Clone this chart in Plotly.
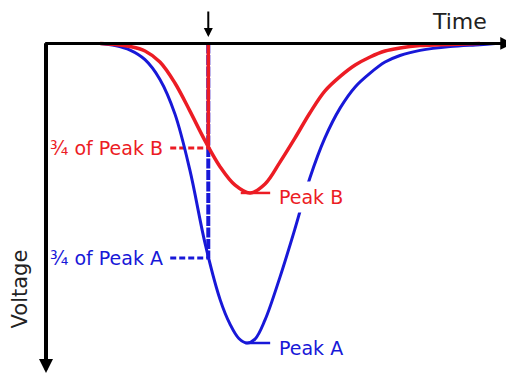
import plotly.graph_objects as go

# time axis (arbitrary units), voltage as a fraction of peak A
red_t = [11.6, 14.8, 18.0, 21.2, 24.4, 27.6, 30.8, 34.1, 37.3, 40.5, 43.7, 46.9,
         50.1, 53.3, 56.5, 59.7, 63.0, 66.2, 69.4, 72.6, 75.8, 80.1, 86.5, 92.9]
red_v = [0.0, -0.003, -0.010, -0.025, -0.062, -0.132, -0.225, -0.326, -0.412, -0.473,
         -0.499, -0.469, -0.396, -0.316, -0.232, -0.159, -0.110, -0.072, -0.045,
         -0.025, -0.015, -0.007, -0.003, 0.0]

blue_t = [11.6, 14.8, 18.0, 21.2, 24.4, 27.6, 30.8, 34.1, 37.3, 39.4, 41.3, 43.0,
          44.75, 46.9, 50.1, 53.3, 56.5, 59.7, 63.0, 66.2, 69.4, 72.6, 75.8, 80.1,
          86.5, 92.9, 96.2]
blue_v = [0.0, -0.007, -0.022, -0.054, -0.120, -0.235, -0.422, -0.670, -0.856, -0.937,
          -0.985, -1.0, -0.987, -0.923, -0.780, -0.619, -0.449, -0.316, -0.215, -0.145,
          -0.099, -0.062, -0.040, -0.023, -0.010, -0.004, 0.0]

t_mark = 34.75
level_b = -0.349   # 3/4 of peak B
level_a = -0.716   # 3/4 of peak A
labels = ["\u00be of Peak B", "\u00be of Peak A", "Peak B", "Peak A"]

RED = "#ec1c24"
BLUE = "#1818d8"
FONT = "DejaVu Sans"

peak_b = min(red_v)
peak_a = min(blue_v)
tb = red_t[red_v.index(peak_b)]
ta = blue_t[blue_v.index(peak_a)]

fig = go.Figure()

# marker line at t_mark
fig.add_trace(go.Scatter(x=[t_mark, t_mark], y=[0, level_a], mode="lines",
                         line=dict(color=BLUE, width=4, dash="10px,1.5px")))
fig.add_trace(go.Scatter(x=[t_mark, t_mark], y=[0, level_b], mode="lines",
                         line=dict(color=RED, width=3.5)))

# dashed leaders to 3/4 levels
fig.add_trace(go.Scatter(x=[26.6, t_mark], y=[level_b, level_b], mode="lines",
                         line=dict(color=RED, width=3, dash="6px,3px")))
fig.add_trace(go.Scatter(x=[26.6, t_mark], y=[level_a, level_a], mode="lines",
                         line=dict(color=BLUE, width=3, dash="6px,3px")))

# curves
fig.add_trace(go.Scatter(x=blue_t, y=blue_v, mode="lines",
                         line=dict(color=BLUE, width=3, shape="spline", smoothing=1.0)))
fig.add_trace(go.Scatter(x=red_t, y=red_v, mode="lines",
                         line=dict(color=RED, width=3.5, shape="spline", smoothing=1.0)))

# peak leaders
fig.add_trace(go.Scatter(x=[tb - 2.0, 48.0], y=[peak_b, peak_b], mode="lines",
                         line=dict(color=RED, width=2.5)))
fig.add_trace(go.Scatter(x=[ta - 0.4, 48.0], y=[peak_a, peak_a], mode="lines",
                         line=dict(color=BLUE, width=2.5)))

# axes with arrows
fig.add_annotation(x=100, y=0, ax=-0.5, ay=0, xref="x", yref="y", axref="x", ayref="y",
                   text="", showarrow=True, arrowhead=2, arrowsize=0.85,
                   arrowwidth=3, arrowcolor="black")
fig.add_annotation(x=0, y=-1.1, ax=0, ay=0.006, xref="x", yref="y", axref="x", ayref="y",
                   text="", showarrow=True, arrowhead=2, arrowsize=0.7,
                   arrowwidth=4, arrowcolor="black")
fig.add_annotation(x=t_mark, y=0.022, ax=t_mark, ay=0.112, xref="x", yref="y",
                   axref="x", ayref="y", text="", showarrow=True, arrowhead=2,
                   arrowsize=0.9, arrowwidth=2, arrowcolor="black")

fig.add_annotation(x=88.6, y=0.075, text="Time", showarrow=False,
                   font=dict(family=FONT, size=22, color="#222"))
fig.add_annotation(x=-5.5, y=-0.82, text="Voltage", showarrow=False, textangle=-90,
                   font=dict(family=FONT, size=21, color="#222"))

fig.add_annotation(x=25.5, y=level_b, text=labels[0], showarrow=False, xanchor="right",
                   font=dict(family=FONT, size=19, color=RED))
fig.add_annotation(x=25.5, y=level_a, text=labels[1], showarrow=False, xanchor="right",
                   font=dict(family=FONT, size=19, color=BLUE))
fig.add_annotation(x=48.8, y=-0.513, text=labels[2], showarrow=False, xanchor="left",
                   bgcolor="white", borderpad=4,
                   font=dict(family=FONT, size=19, color=RED))
fig.add_annotation(x=48.8, y=-1.017, text=labels[3], showarrow=False, xanchor="left",
                   borderpad=4, font=dict(family=FONT, size=19, color=BLUE))

# page body has an 8px margin, so the figure is 506x366 and ranges start there
fig.update_xaxes(range=[-8.137, 100.21], visible=False)
fig.update_yaxes(range=[-1.1035, 0.1185], visible=False)
fig.update_layout(width=506, height=366, margin=dict(l=0, r=0, t=0, b=0),
                  showlegend=False, plot_bgcolor="white", paper_bgcolor="white")

fig.write_html("out.html")
